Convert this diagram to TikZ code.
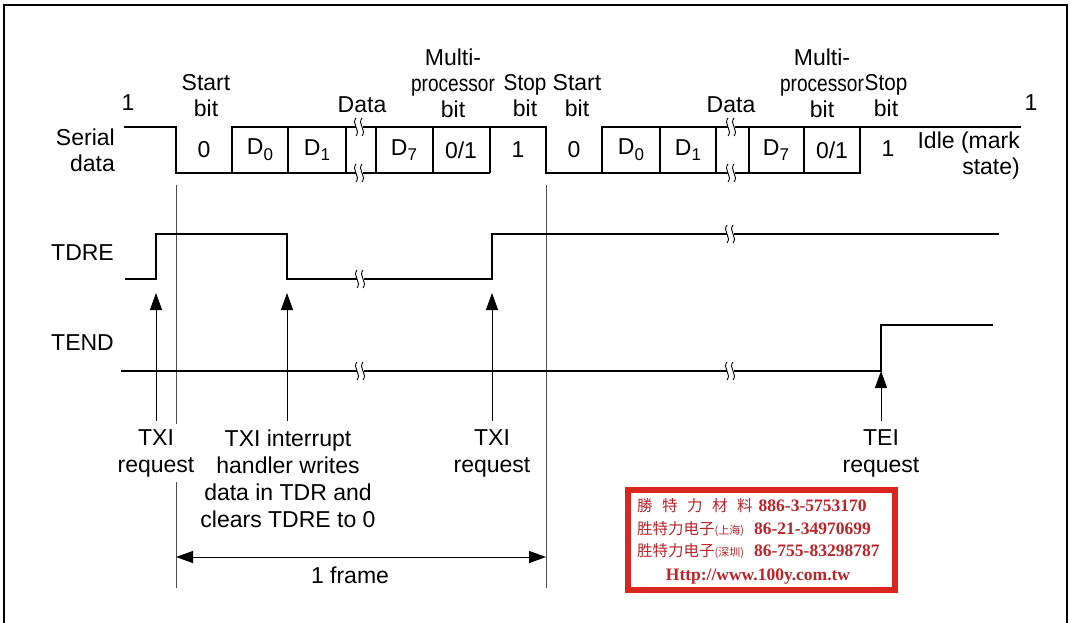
\documentclass[tikz,border=0pt]{standalone}
\usepackage{fontspec}
\usepackage{graphicx}
\setmainfont{Liberation Sans}
\newfontfamily\cjk{Noto Sans CJK SC}
\newfontfamily\stampser{Liberation Serif}
\usetikzlibrary{arrows.meta}
\definecolor{stampred}{RGB}{218,38,30}
\definecolor{stamptxt}{RGB}{188,36,42}
\definecolor{markgray}{RGB}{80,80,80}
\newcommand\Dsub[1]{D\raisebox{-0.25em}{\fontsize{17}{17}\selectfont #1}}
\newcommand\condA[1]{\scalebox{0.83}[1]{#1}}
\newcommand\condB[1]{\scalebox{0.9}[1]{#1}}
\tikzset{
  lbl/.style={inner sep=0pt, font=\fontsize{23}{26}\selectfont, align=center},
  blbl/.style={inner sep=0pt, font=\fontsize{23}{27}\selectfont, align=center},
  boxline/.style={line width=1.3pt, line join=miter},
  sig/.style={line width=1.9pt, line join=miter},
  marker/.style={line width=1pt, draw=markgray},
  arr/.style={line width=1pt, -{Triangle[length=17pt,width=12pt]}},
  dbl/.style={line width=1pt, {Triangle[length=17pt,width=12pt]}-{Triangle[length=17pt,width=12pt]}},
  frameline/.style={line width=1.4pt},
  stamptext/.style={inner sep=0pt, anchor=west, text=stamptxt},
  brk/.pic={
    \fill[white] (-3.5,-9) rectangle (3.5,9);
    \draw[line width=0.9pt] (-3,-9) .. controls (-8,-3) and (2,3) .. (-3,9);
    \draw[line width=0.9pt] (3,-9) .. controls (-2,-3) and (8,3) .. (3,9);
  }
}
\begin{document}
\begin{tikzpicture}[x=1pt,y=-1pt]
\useasboundingbox (0,0) rectangle (1070,623);
% outer frame (top, left, right)
\draw[frameline] (4,623) -- (4,5) -- (1067,5) -- (1067,623);

% frame markers
\draw[marker] (176,185) -- (176,588);
\draw[marker] (546,185) -- (546,588);

% ---- serial data ----
\draw[boxline] (124,127) -- (176,127) -- (176,173) -- (490,173);
\draw[boxline] (232,173) -- (232,127) -- (546,127) -- (546,173) -- (860,173) -- (860,127);
\draw[boxline] (602,173) -- (602,127) -- (1021,127);
\foreach \xx in {288,346,376,433,490,660,716,749,804}
  \draw[boxline] (\xx,127) -- (\xx,173);
\pic at (359,127) {brk};
\pic at (359,173) {brk};
\pic at (731,127) {brk};
\pic at (731,173) {brk};

% ---- TDRE ----
\draw[sig] (125,279) -- (156,279) -- (156,234) -- (287,234) -- (287,279) -- (492,279) -- (492,234) -- (999,234);
\pic at (360,279) {brk};
\pic at (730,234) {brk};

% ---- TEND ----
\draw[sig] (121,371) -- (881,371) -- (881,325) -- (993,325);
\pic at (360,371) {brk};
\pic at (730,371) {brk};

% ---- left labels ----
\node[lbl, anchor=east, align=right] (serial) at (115,150) {Serial\\data};
\node[lbl, anchor=west] (tdre) at (51,253) {TDRE};
\node[lbl, anchor=west] (tend) at (51,343) {TEND};

% ---- top labels ----
\node[lbl] (one1) at (128,103) {1};
\node[lbl] (st1) at (206,96) {Start\\bit};
\node[lbl] (data1) at (362,105) {Data};
\node[lbl] (mp1) at (453,83) {Multi-\\\condA{processor}\\bit};
\node[lbl] (sp1) at (525,96) {\condB{Stop}\\bit};
\node[lbl] (st2) at (577,96) {Start\\bit};
\node[lbl] (data2) at (731,105) {Data};
\node[lbl] (mp2) at (822,83) {Multi-\\\condA{processor}\\bit};
\node[lbl] (sp2) at (886,96) {\condB{Stop}\\bit};
\node[lbl] (one2) at (1031,103) {1};

% ---- bit values ----
\node[lbl] (b0) at (204,150) {0};
\node[lbl] (b1) at (260,150) {\Dsub{0}};
\node[lbl] (b2) at (317,150) {\Dsub{1}};
\node[lbl] (b3) at (404,150) {\Dsub{7}};
\node[lbl] (b4) at (461,150) {0/1};
\node[lbl] (b5) at (518,150) {1};
\node[lbl] (b6) at (574,150) {0};
\node[lbl] (b7) at (631,150) {\Dsub{0}};
\node[lbl] (b8) at (688,150) {\Dsub{1}};
\node[lbl] (b9) at (776,150) {\Dsub{7}};
\node[lbl] (b10) at (832,150) {0/1};
\node[lbl] (b11) at (888,149) {1};
\node[lbl, anchor=east, align=right] (idle) at (1020,156) {Idle (mark\\state)};

% ---- bottom labels ----
\node[blbl, fill=white, inner ysep=5pt] (txi1) at (156,453) {TXI\\request};
\node[blbl] (hdl) at (288,479) {TXI interrupt\\handler writes\\data in TDR and\\clears TDRE to 0};
\node[blbl] (txi2) at (492,453) {TXI\\request};
\node[blbl] (tei) at (881,453) {TEI\\request};
\node[blbl] (frm) at (350,575) {1 frame};

% ---- arrows ----
\coordinate (e1) at (156,293);
\coordinate (e2) at (287,293);
\coordinate (e3) at (492,293);
\coordinate (e4) at (881,371);
\coordinate (a1) at (156,421);
\coordinate (a2) at (287,421);
\coordinate (a3) at (492,421);
\coordinate (a4) at (881,421);
\draw[arr] (a1) -- (e1);
\draw[arr] (a2) -- (e2);
\draw[arr] (a3) -- (e3);
\draw[arr] (a4) -- (e4);
\coordinate (f1) at (176,557);
\coordinate (f2) at (546,557);
\draw[dbl] (f1) -- (f2);

% ---- stamp ----
\draw[stampred, line width=6pt, fill=white] (628,490) rectangle (895,590);
\node[stamptext] (s1) at (637,506) {{\cjk\fontsize{15.5}{16}\selectfont 勝\hspace{9.5pt}特\hspace{9.5pt}力\hspace{9.5pt}材\hspace{9.5pt}料}\hspace{6pt}{\stampser\bfseries\fontsize{17.5}{18}\selectfont 886-3-5753170}};
\node[stamptext] (s2) at (637,529) {{\cjk\fontsize{15.5}{16}\selectfont 胜特力电子}{\cjk\fontsize{11}{12}\selectfont (上海)}\hspace{10pt}{\stampser\bfseries\fontsize{17.5}{18}\selectfont 86-21-34970699}};
\node[stamptext] (s3) at (637,551) {{\cjk\fontsize{15.5}{16}\selectfont 胜特力电子}{\cjk\fontsize{11}{12}\selectfont (深圳)}\hspace{10pt}{\stampser\bfseries\fontsize{17.5}{18}\selectfont 86-755-83298787}};
\node[stamptext, anchor=center] (s4) at (758,577) {\stampser\bfseries\fontsize{17.5}{18}\selectfont Http://www.100y.com.tw};
\end{tikzpicture}
\end{document}
